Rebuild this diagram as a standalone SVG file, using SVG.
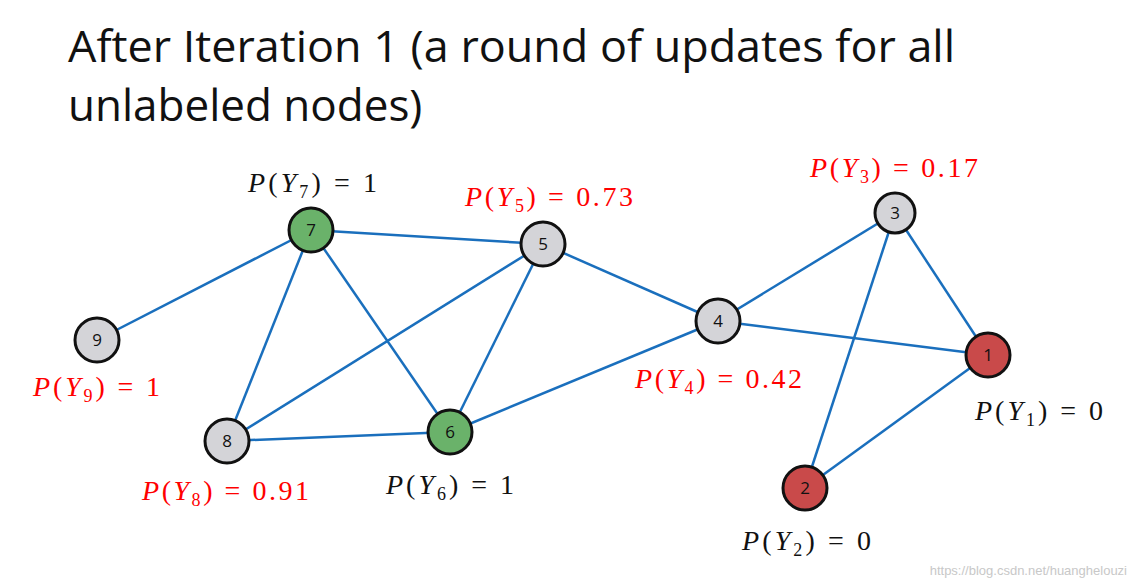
<svg xmlns="http://www.w3.org/2000/svg" width="1137" height="588" viewBox="0 0 1137 588">
<style>
.e{stroke:#1a6fbd;stroke-width:2.5}
.n circle{stroke:#111;stroke-width:3}
.n text{font-family:"Open Sans",sans-serif;font-size:17px;text-anchor:middle;fill:#111}
.g{fill:#d4d4d8}.gr{fill:#6ab26a}.r{fill:#c94a4a}
.l{font-family:"Liberation Serif",serif;font-size:28px;font-style:italic}
.l tspan.u{font-style:normal}
.red{fill:#ff0000}.blk{fill:#111}
.t{font-family:"Open Sans",sans-serif;font-size:44px;fill:#111}
</style>
<rect width="1137" height="588" fill="#fff"/>
<text class="t" x="68" y="62" textLength="887" lengthAdjust="spacingAndGlyphs">After Iteration 1 (a round of updates for all</text>
<text class="t" x="68" y="121">unlabeled nodes)</text>
<g id="connectors">
<line class="e" x1="311" y1="230" x2="543" y2="244"/>
<line class="e" x1="311" y1="230" x2="97" y2="340"/>
<line class="e" x1="311" y1="230" x2="227" y2="441"/>
<line class="e" x1="311" y1="230" x2="450" y2="432"/>
<line class="e" x1="543" y1="244" x2="227" y2="441"/>
<line class="e" x1="543" y1="244" x2="450" y2="432"/>
<line class="e" x1="543" y1="244" x2="718" y2="321"/>
<line class="e" x1="718" y1="321" x2="450" y2="432"/>
<line class="e" x1="718" y1="321" x2="895" y2="213"/>
<line class="e" x1="718" y1="321" x2="988" y2="355"/>
<line class="e" x1="895" y1="213" x2="988" y2="355"/>
<line class="e" x1="895" y1="213" x2="805" y2="488"/>
<line class="e" x1="805" y1="488" x2="988" y2="355"/>
<line class="e" x1="227" y1="441" x2="450" y2="432"/>
</g>
<g id="n1" class="n"><circle class="r" cx="988" cy="355" r="22"/><text x="988" y="361">1</text></g>
<g id="n2" class="n"><circle class="r" cx="805" cy="488" r="22"/><text x="805" y="494">2</text></g>
<g id="n3" class="n"><circle class="g" cx="895" cy="213" r="20"/><text x="895" y="219">3</text></g>
<g id="n4" class="n"><circle class="g" cx="718" cy="321" r="22"/><text x="718" y="327">4</text></g>
<g id="n5" class="n"><circle class="g" cx="543" cy="244" r="22"/><text x="543" y="250">5</text></g>
<g id="n6" class="n"><circle class="gr" cx="450" cy="432" r="22"/><text x="450" y="438">6</text></g>
<g id="n7" class="n"><circle class="gr" cx="311" cy="230" r="22"/><text x="311" y="236">7</text></g>
<g id="n8" class="n"><circle class="g" cx="227" cy="441" r="22"/><text x="227" y="447">8</text></g>
<g id="n9" class="n"><circle class="g" cx="97" cy="340" r="22"/><text x="97" y="346">9</text></g>
<g id="labels">
<text class="l blk" x="248" y="192" textLength="129" lengthAdjust="spacing">P<tspan class="u">(</tspan>Y<tspan class="u" font-size="18" dy="6">7</tspan><tspan class="u" dy="-6">) = 1</tspan></text>
<text class="l red" x="465" y="206" textLength="168" lengthAdjust="spacing">P<tspan class="u">(</tspan>Y<tspan class="u" font-size="18" dy="6">5</tspan><tspan class="u" dy="-6">) = 0.73</tspan></text>
<text class="l red" x="810" y="177" textLength="168" lengthAdjust="spacing">P<tspan class="u">(</tspan>Y<tspan class="u" font-size="18" dy="6">3</tspan><tspan class="u" dy="-6">) = 0.17</tspan></text>
<text class="l red" x="33" y="396" textLength="127" lengthAdjust="spacing">P<tspan class="u">(</tspan>Y<tspan class="u" font-size="18" dy="6">9</tspan><tspan class="u" dy="-6">) = 1</tspan></text>
<text class="l red" x="635" y="388" textLength="167" lengthAdjust="spacing">P<tspan class="u">(</tspan>Y<tspan class="u" font-size="18" dy="6">4</tspan><tspan class="u" dy="-6">) = 0.42</tspan></text>
<text class="l blk" x="975" y="420" textLength="128" lengthAdjust="spacing">P<tspan class="u">(</tspan>Y<tspan class="u" font-size="18" dy="6">1</tspan><tspan class="u" dy="-6">) = 0</tspan></text>
<text class="l red" x="142" y="500" textLength="167" lengthAdjust="spacing">P<tspan class="u">(</tspan>Y<tspan class="u" font-size="18" dy="6">8</tspan><tspan class="u" dy="-6">) = 0.91</tspan></text>
<text class="l blk" x="386" y="494" textLength="128" lengthAdjust="spacing">P<tspan class="u">(</tspan>Y<tspan class="u" font-size="18" dy="6">6</tspan><tspan class="u" dy="-6">) = 1</tspan></text>
<text class="l blk" x="742" y="550" textLength="129" lengthAdjust="spacing">P<tspan class="u">(</tspan>Y<tspan class="u" font-size="18" dy="6">2</tspan><tspan class="u" dy="-6">) = 0</tspan></text>
</g>
<text x="1127" y="575" text-anchor="end" font-family="Liberation Sans,sans-serif" font-size="13" fill="#c8c8c8">https://blog.csdn.net/huanghelouzi</text>
</svg>
